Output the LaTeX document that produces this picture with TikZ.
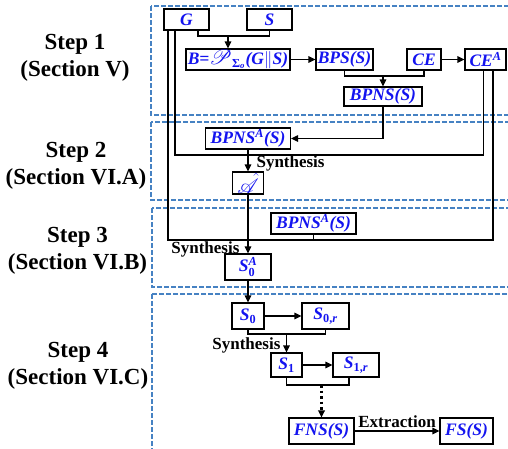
\documentclass[tikz,border=0pt]{standalone}
\usepackage{amsmath}
\usepackage{mathrsfs}
\usepackage{fontspec}
\setmainfont{Liberation Serif}
\usetikzlibrary{arrows.meta}
\definecolor{stepblue}{RGB}{70,130,195}
\definecolor{txtblue}{RGB}{20,20,240}

\begin{document}
\begin{tikzpicture}[x=1pt,y=-1pt,line width=1.1pt,>={Triangle[length=7pt,width=6.5pt]},
    blk/.style={draw,fill=white,text=txtblue,font=\fontsize{17.5}{20}\selectfont\bfseries\itshape,inner sep=1pt,minimum height=21pt},
    region/.style={draw=stepblue,dash pattern=on 5pt off 2pt,line width=1.2pt},
    steplbl/.style={align=center,font=\fontsize{23}{27}\selectfont\bfseries},
    lbl/.style={font=\fontsize{17}{19}\selectfont\bfseries,inner sep=0pt}]
    \useasboundingbox (0,0) rectangle (508,448);

    % steps
    \draw[region] (151,6) rectangle (515,115);
    \draw[region] (151,122) rectangle (515,200);
    \draw[region] (152,208) rectangle (515,287);
    \draw[region] (152,294) rectangle (515,455);
    \node[steplbl] (step1) at (75,58) {Step 1\\(Section V)};
    \node[steplbl] (step2) at (76,166) {Step 2\\(Section VI.A)};
    \node[steplbl] (step3) at (77.5,251) {Step 3\\(Section VI.B)};
    \node[steplbl] (step4) at (78,366) {Step 4\\(Section VI.C)};

    % boxes
    \node[blk,minimum width=45pt] (G) at (186.5,19.5) {G};
    \node[blk,minimum width=45pt] (S) at (269.5,19.5) {S};
    \node[blk,minimum width=104pt] (B) at (238,59.5) {B=${\text{\fontsize{21}{24}\selectfont$\mathscr{P}$}}_{\text{\upshape Σ}_{\text{o}}}$(G$\|$S)};
    \node[blk,minimum width=57pt] (BPS) at (344.5,59.5) {BPS(S)};
    \node[blk,minimum width=34pt] (CE) at (424,59.5) {CE};
    \node[blk,minimum width=41pt] (CEA) at (485.5,59.5) {CE$^{\text{A}}$};
    \node[blk,minimum width=78pt,minimum height=19pt] (BPNS) at (383,96.5) {BPNS(S)};
    \node[blk,minimum width=85pt] (BPNSA) at (248,138.5) {BPNS$^{\text{A}}$(S)};
    \node[blk,minimum width=31pt,minimum height=22pt,font=\fontsize{21}{24}\selectfont] (Ahat) at (248,183) {$\hat{\mathscr{A}}$};
    \node[blk,minimum width=85pt] (BPNSB) at (313.5,223.5) {BPNS$^{\text{A}}$(S)};
    \node[blk,minimum width=46pt,minimum height=26pt] (S0A) at (248,267) {S$^{\text{A}}_{\text{\upshape 0}}$};
    \node[blk,minimum width=32pt,minimum height=26pt] (S0) at (248,316) {S$_{\text{\upshape 0}}$};
    \node[blk,minimum width=47pt,minimum height=26pt] (S0r) at (325.5,316) {S$_{\text{\upshape 0,}\text{r}}$};
    \node[blk,minimum width=31pt,minimum height=24pt] (S1) at (286.5,365) {S$_{\text{\upshape 1}}$};
    \node[blk,minimum width=46pt,minimum height=24pt] (S1r) at (356,365) {S$_{\text{\upshape 1,}\text{r}}$};
    \node[blk,minimum width=65pt,minimum height=26pt] (FNS) at (321.5,431) {FNS(S)};
    \node[blk,minimum width=53pt,minimum height=26pt] (FS) at (466.5,431) {FS(S)};

    % step 1
    \coordinate (gs) at (228,36);
    \draw ([xshift=11.5pt]G.south) |- (gs) -| (S.south);
    \draw[->] (gs) -- (gs |- B.north);
    \draw[->] (B) -- (BPS);
    \draw[->] (CE) -- (CEA);
    \coordinate (bc) at (383,76);
    \draw (BPS.south) |- (bc) -| (CE.south);
    \draw[->] (bc) -- (BPNS);

    % step 2
    \draw[->] (BPNS.south) |- (BPNSA.east);
    \coordinate (synA) at (248,155);
    \draw ([xshift=-11.5pt]G.south) |- (synA) -| ([xshift=-2pt]CEA.south);
    \draw[->] (BPNSA) -- (Ahat);
    \node[lbl,anchor=west] (synthA) at (256,163) {Synthesis};

    % step 3
    \coordinate (synB) at (248,240);
    \draw ([xshift=-18.5pt]G.south) |- (synB) -| ([xshift=7.5pt]CEA.south);
    \draw (BPNSB.south) -- (BPNSB.south |- synB);
    \draw[->] (Ahat) -- (S0A);
    \node[lbl,anchor=east] (synthB) at (240,249) {Synthesis};

    % step 4
    \draw[->] (S0A) -- (S0);
    \draw[->] (S0) -- (S0r);
    \coordinate (c0) at (286.5,334);
    \draw (S0.south) |- (c0) -| (S0r.south);
    \draw[->] (c0) -- (S1);
    \node[lbl,anchor=east] (synthC) at (281,345) {Synthesis};
    \draw[->] (S1) -- (S1r);
    \coordinate (c1) at (321.5,385);
    \draw (S1.south) |- (c1) -| ([xshift=-7pt]S1r.south);
    \draw[->,line width=2.2pt,dash pattern=on 2.5pt off 3pt] (c1) -- (FNS);
    \draw[->] (FNS) -- node[lbl,above,inner sep=3pt] (extr) {Extraction} (FS);
\end{tikzpicture}
\end{document}
